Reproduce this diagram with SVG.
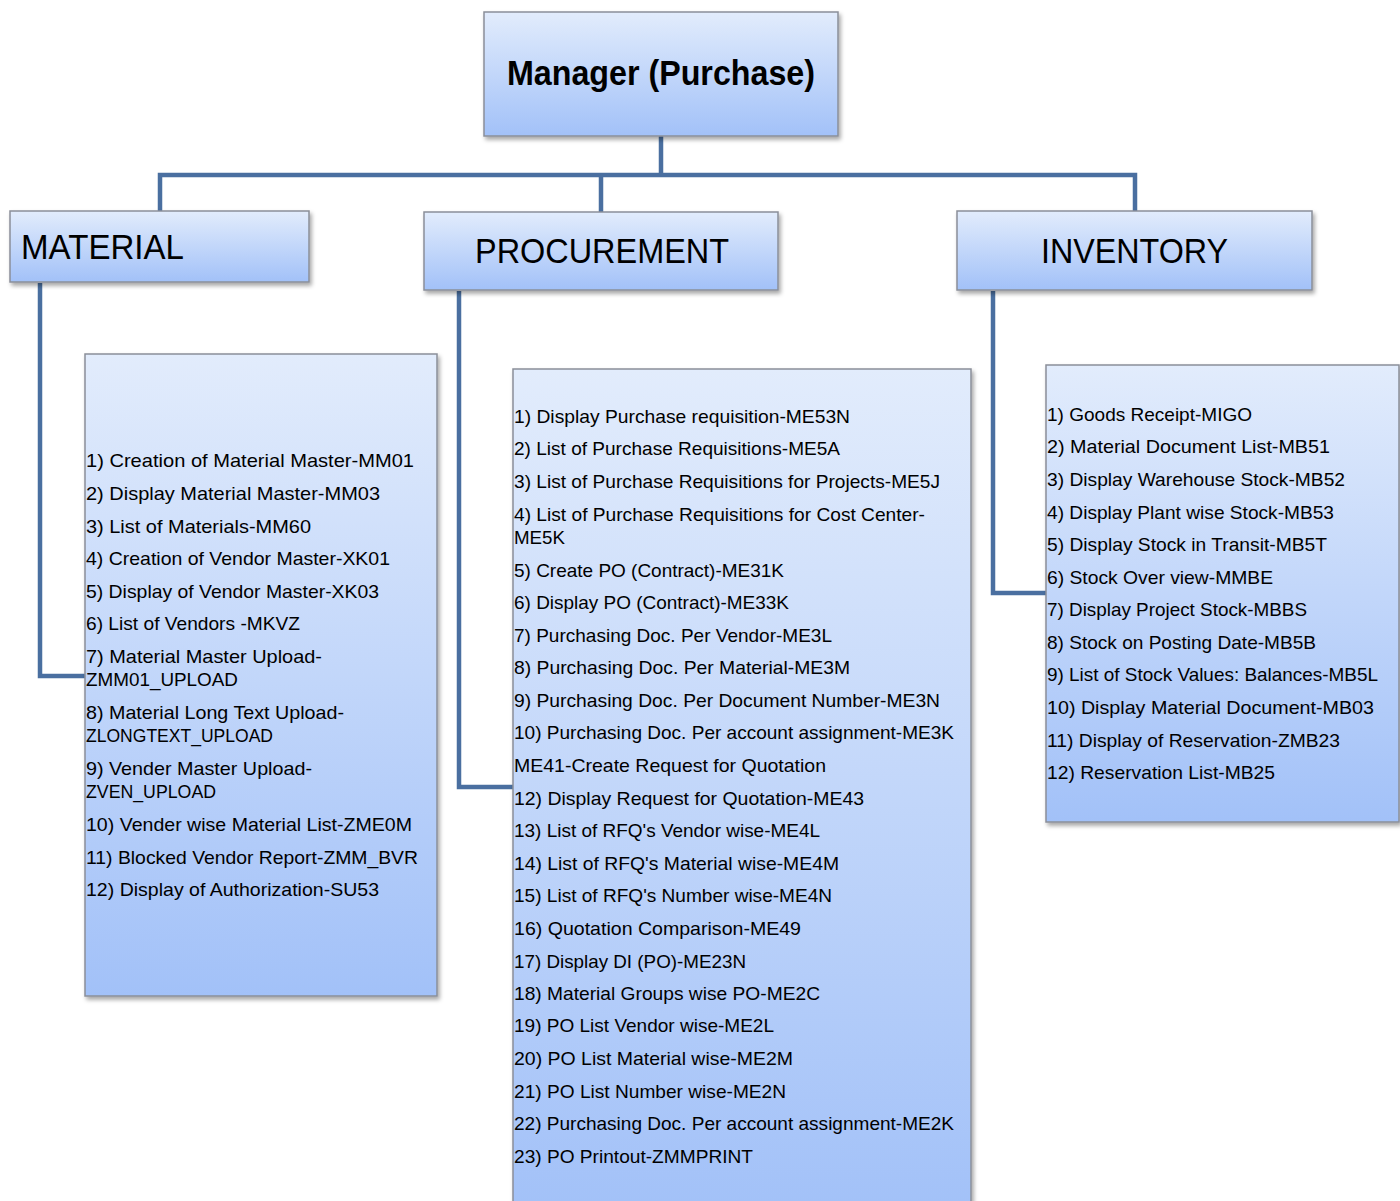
<svg xmlns="http://www.w3.org/2000/svg" width="1400" height="1201" viewBox="0 0 1400 1201">
<defs>
<linearGradient id="g" x1="0" y1="0" x2="0" y2="1">
<stop offset="0" stop-color="#e2ecfc"/>
<stop offset="1" stop-color="#a2c1f8"/>
</linearGradient>
<filter id="sh" x="-10%" y="-10%" width="120%" height="120%">
<feDropShadow dx="2" dy="3" stdDeviation="2" flood-color="#000" flood-opacity="0.35"/>
</filter>
</defs>
<style>
.box{fill:url(#g);stroke:#8a8f99;stroke-width:1.5;filter:url(#sh)}
.con{fill:none;stroke:#4a6fa0;stroke-width:4.5}
.h{font-family:"Liberation Sans",Arial,sans-serif;font-size:35px;fill:#000}
.t{font-family:"Liberation Sans",Arial,sans-serif;font-size:19px;fill:#000}
</style>
<rect width="1400" height="1201" fill="#fff"/>
<g id="connectors">
<path class="con" d="M661 136V175M160 212V175H1135V212M601 175V212"/>
<path class="con" d="M40 283V676H85"/>
<path class="con" d="M459 291V787H513"/>
<path class="con" d="M993 291V593H1046"/>
</g>
<g id="manager">
<rect class="box" x="484" y="12" width="354" height="124"/>
<text class="h" x="661" y="85" text-anchor="middle" font-weight="bold" textLength="308" lengthAdjust="spacingAndGlyphs">Manager (Purchase)</text>
</g>
<g id="material">
<rect class="box" x="10" y="211" width="299" height="71"/>
<text class="h" x="21" y="259" textLength="163" lengthAdjust="spacingAndGlyphs">MATERIAL</text>
</g>
<g id="procurement">
<rect class="box" x="424" y="212" width="354" height="78"/>
<text class="h" x="475" y="263" textLength="254" lengthAdjust="spacingAndGlyphs">PROCUREMENT</text>
</g>
<g id="inventory">
<rect class="box" x="957" y="211" width="355" height="79"/>
<text class="h" x="1041" y="263" textLength="187" lengthAdjust="spacingAndGlyphs">INVENTORY</text>
</g>
<g id="material-list">
<rect class="box" x="85" y="354" width="352" height="642"/>
<g class="t" transform="translate(0,1)">
<text x="86" y="466" textLength="328" lengthAdjust="spacingAndGlyphs">1) Creation of Material Master-MM01</text>
<text x="86" y="499" textLength="294" lengthAdjust="spacingAndGlyphs">2) Display Material Master-MM03</text>
<text x="86" y="532" textLength="225" lengthAdjust="spacingAndGlyphs">3) List of Materials-MM60</text>
<text x="86" y="564" textLength="304" lengthAdjust="spacingAndGlyphs">4) Creation of Vendor Master-XK01</text>
<text x="86" y="597" textLength="293" lengthAdjust="spacingAndGlyphs">5) Display of Vendor Master-XK03</text>
<text x="86" y="629" textLength="214" lengthAdjust="spacingAndGlyphs">6) List of Vendors -MKVZ</text>
<text x="86" y="662" textLength="236" lengthAdjust="spacingAndGlyphs">7) Material Master Upload-</text>
<text x="86" y="685" textLength="152" lengthAdjust="spacingAndGlyphs">ZMM01_UPLOAD</text>
<text x="86" y="718" textLength="258" lengthAdjust="spacingAndGlyphs">8) Material Long Text Upload-</text>
<text x="86" y="741" textLength="187" lengthAdjust="spacingAndGlyphs">ZLONGTEXT_UPLOAD</text>
<text x="86" y="774" textLength="226" lengthAdjust="spacingAndGlyphs">9) Vender Master Upload-</text>
<text x="86" y="797" textLength="130" lengthAdjust="spacingAndGlyphs">ZVEN_UPLOAD</text>
<text x="86" y="830" textLength="326" lengthAdjust="spacingAndGlyphs">10) Vender wise Material List-ZME0M</text>
<text x="86" y="863" textLength="332" lengthAdjust="spacingAndGlyphs">11) Blocked Vendor Report-ZMM_BVR</text>
<text x="86" y="895" textLength="293" lengthAdjust="spacingAndGlyphs">12) Display of Authorization-SU53</text>
</g>
</g>
<g id="procurement-list">
<rect class="box" x="513" y="369" width="458" height="845"/>
<g class="t" transform="translate(0,1)">
<text x="514" y="422" textLength="336" lengthAdjust="spacingAndGlyphs">1) Display Purchase requisition-ME53N</text>
<text x="514" y="454" textLength="326" lengthAdjust="spacingAndGlyphs">2) List of Purchase Requisitions-ME5A</text>
<text x="514" y="487" textLength="426" lengthAdjust="spacingAndGlyphs">3) List of Purchase Requisitions for Projects-ME5J</text>
<text x="514" y="520" textLength="411" lengthAdjust="spacingAndGlyphs">4) List of Purchase Requisitions for Cost Center-</text>
<text x="514" y="543" textLength="51" lengthAdjust="spacingAndGlyphs">ME5K</text>
<text x="514" y="576" textLength="270" lengthAdjust="spacingAndGlyphs">5) Create PO (Contract)-ME31K</text>
<text x="514" y="608" textLength="275" lengthAdjust="spacingAndGlyphs">6) Display PO (Contract)-ME33K</text>
<text x="514" y="641" textLength="318" lengthAdjust="spacingAndGlyphs">7) Purchasing Doc. Per Vendor-ME3L</text>
<text x="514" y="673" textLength="336" lengthAdjust="spacingAndGlyphs">8) Purchasing Doc. Per Material-ME3M</text>
<text x="514" y="706" textLength="426" lengthAdjust="spacingAndGlyphs">9) Purchasing Doc. Per Document Number-ME3N</text>
<text x="514" y="738" textLength="440" lengthAdjust="spacingAndGlyphs">10) Purchasing Doc. Per account assignment-ME3K</text>
<text x="514" y="771" textLength="312" lengthAdjust="spacingAndGlyphs">ME41-Create Request for Quotation</text>
<text x="514" y="804" textLength="350" lengthAdjust="spacingAndGlyphs">12) Display Request for Quotation-ME43</text>
<text x="514" y="836" textLength="306" lengthAdjust="spacingAndGlyphs">13) List of RFQ's Vendor wise-ME4L</text>
<text x="514" y="869" textLength="325" lengthAdjust="spacingAndGlyphs">14) List of RFQ's Material wise-ME4M</text>
<text x="514" y="901" textLength="318" lengthAdjust="spacingAndGlyphs">15) List of RFQ's Number wise-ME4N</text>
<text x="514" y="934" textLength="287" lengthAdjust="spacingAndGlyphs">16) Quotation Comparison-ME49</text>
<text x="514" y="967" textLength="232" lengthAdjust="spacingAndGlyphs">17) Display DI (PO)-ME23N</text>
<text x="514" y="999" textLength="306" lengthAdjust="spacingAndGlyphs">18) Material Groups wise PO-ME2C</text>
<text x="514" y="1031" textLength="260" lengthAdjust="spacingAndGlyphs">19) PO List Vendor wise-ME2L</text>
<text x="514" y="1064" textLength="279" lengthAdjust="spacingAndGlyphs">20) PO List Material wise-ME2M</text>
<text x="514" y="1097" textLength="272" lengthAdjust="spacingAndGlyphs">21) PO List Number wise-ME2N</text>
<text x="514" y="1129" textLength="440" lengthAdjust="spacingAndGlyphs">22) Purchasing Doc. Per account assignment-ME2K</text>
<text x="514" y="1162" textLength="239" lengthAdjust="spacingAndGlyphs">23) PO Printout-ZMMPRINT</text>
</g>
</g>
<g id="inventory-list">
<rect class="box" x="1046" y="365" width="353" height="457"/>
<g class="t" transform="translate(0,1)">
<text x="1047" y="420" textLength="205" lengthAdjust="spacingAndGlyphs">1) Goods Receipt-MIGO</text>
<text x="1047" y="452" textLength="283" lengthAdjust="spacingAndGlyphs">2) Material Document List-MB51</text>
<text x="1047" y="485" textLength="298" lengthAdjust="spacingAndGlyphs">3) Display Warehouse Stock-MB52</text>
<text x="1047" y="518" textLength="287" lengthAdjust="spacingAndGlyphs">4) Display Plant wise Stock-MB53</text>
<text x="1047" y="550" textLength="280" lengthAdjust="spacingAndGlyphs">5) Display Stock in Transit-MB5T</text>
<text x="1047" y="583" textLength="226" lengthAdjust="spacingAndGlyphs">6) Stock Over view-MMBE</text>
<text x="1047" y="615" textLength="260" lengthAdjust="spacingAndGlyphs">7) Display Project Stock-MBBS</text>
<text x="1047" y="648" textLength="269" lengthAdjust="spacingAndGlyphs">8) Stock on Posting Date-MB5B</text>
<text x="1047" y="680" textLength="331" lengthAdjust="spacingAndGlyphs">9) List of Stock Values: Balances-MB5L</text>
<text x="1047" y="713" textLength="327" lengthAdjust="spacingAndGlyphs">10) Display Material Document-MB03</text>
<text x="1047" y="746" textLength="293" lengthAdjust="spacingAndGlyphs">11) Display of Reservation-ZMB23</text>
<text x="1047" y="778" textLength="228" lengthAdjust="spacingAndGlyphs">12) Reservation List-MB25</text>
</g>
</g>
</svg>
